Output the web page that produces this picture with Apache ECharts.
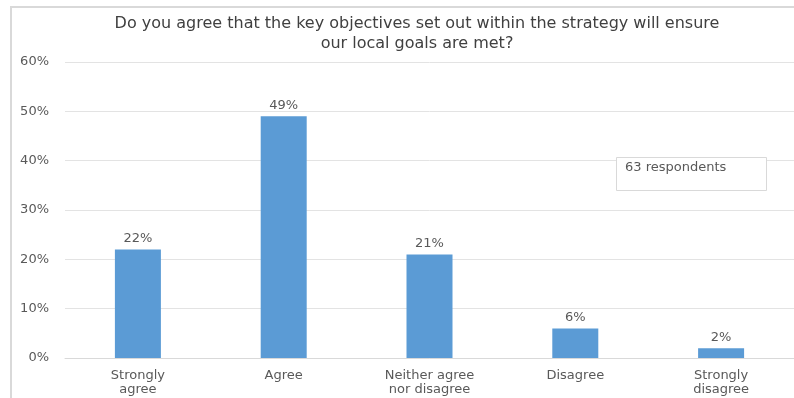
<!DOCTYPE html>
<html>
<head>
<meta charset="utf-8">
<script src="https://cdn.jsdelivr.net/npm/echarts@6/dist/echarts.min.js"></script>
<style>
  html, body { margin: 0; padding: 0; background: #ffffff; }
  #chart { width: 794px; height: 398px; }
</style>
</head>
<body>
<div id="chart"></div>
<script>
// Survey responses (share of respondents)
const categories = ['Strongly\nagree', 'Agree', 'Neither agree\nnor disagree', 'Disagree', 'Strongly\ndisagree'];
const shares = [0.22, 0.49, 0.21, 0.06, 0.02];
const shareLabels = ['22%', '49%', '21%', '6%', '2%'];
const respondentsNote = '63 respondents';
const titleLines = ['Do you agree that the key objectives set out within the strategy will ensure', 'our local goals are met?'];

const FONT = '"DejaVu Sans", Verdana, sans-serif';
const TEXT = '#595959';

const chart = echarts.init(document.getElementById('chart'), null, { renderer: 'canvas' });

chart.setOption({
  animation: false,
  backgroundColor: '#ffffff',
  title: {
    text: titleLines.join('\n'),
    left: 412,
    top: 9,
    textAlign: 'center',
    textStyle: { fontFamily: FONT, fontSize: 16, fontWeight: 'normal', color: '#404040', lineHeight: 20 }
  },
  grid: { left: 65, top: 62, width: 733, height: 296, containLabel: false },
  xAxis: {
    type: 'category',
    data: categories,
    axisLine: { show: true, lineStyle: { color: '#D9D9D9', width: 1 } },
    axisTick: { show: false },
    axisLabel: { fontFamily: FONT, fontSize: 13, color: TEXT, lineHeight: 14, margin: 11, interval: 0 }
  },
  yAxis: {
    type: 'value',
    min: 0,
    max: 0.6,
    interval: 0.1,
    axisLine: { show: false },
    axisTick: { show: false },
    splitLine: { lineStyle: { color: '#E3E3E3', width: 1 } },
    axisLabel: {
      fontFamily: FONT, fontSize: 13, color: TEXT, margin: 16,
      formatter: v => Math.round(v * 100) + '%'
    }
  },
  series: [{
    type: 'bar',
    data: shares,
    barWidth: 46,
    itemStyle: { color: '#5B9BD5' },
    label: {
      show: true,
      position: 'top',
      distance: 4,
      fontFamily: FONT,
      fontSize: 13,
      color: TEXT,
      formatter: p => shareLabels[p.dataIndex]
    }
  }],
  graphic: [
    {
      type: 'rect',
      shape: { x: 11, y: 7, width: 820, height: 420 },
      style: { fill: 'none', stroke: '#D9D9D9', lineWidth: 2 },
      silent: true
    },
    {
      type: 'rect',
      shape: { x: 616.5, y: 157.5, width: 150, height: 33 },
      style: { fill: '#ffffff', stroke: '#D9D9D9', lineWidth: 1 },
      z: 10
    },
    {
      type: 'text',
      x: 625,
      y: 168,
      style: { text: respondentsNote, fontFamily: FONT, fontSize: 13, fill: TEXT, textVerticalAlign: 'middle' },
      z: 11
    }
  ]
});
</script>
</body>
</html>
